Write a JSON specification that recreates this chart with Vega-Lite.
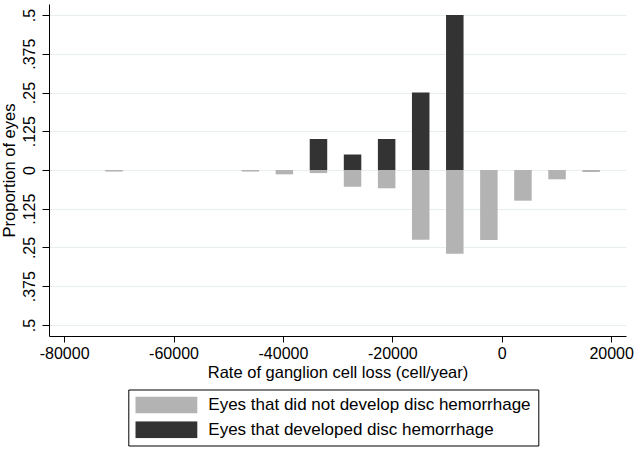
{
  "$schema": "https://vega.github.io/schema/vega-lite/v6.json",
  "width": 577,
  "height": 332,
  "autosize": {"type": "none"},
  "padding": {"left": 49, "top": 4, "right": 17, "bottom": 114},
  "background": "white",
  "config": {
    "font": "Liberation Sans",
    "view": {"stroke": null},
    "axis": {"domainColor": "black", "tickColor": "black", "labelColor": "black", "titleColor": "black", "titleFontWeight": "normal", "gridColor": "#e6eeee", "gridWidth": 1.2}
  },
  "data": {
    "values": [
      {"rate": -70883, "proportion": -0.005, "group": "Eyes that did not develop disc hemorrhage"},
      {"rate": -45963, "proportion": -0.005, "group": "Eyes that did not develop disc hemorrhage"},
      {"rate": -39733, "proportion": -0.014, "group": "Eyes that did not develop disc hemorrhage"},
      {"rate": -33503, "proportion": -0.01, "group": "Eyes that did not develop disc hemorrhage"},
      {"rate": -27273, "proportion": -0.054, "group": "Eyes that did not develop disc hemorrhage"},
      {"rate": -21043, "proportion": -0.059, "group": "Eyes that did not develop disc hemorrhage"},
      {"rate": -14813, "proportion": -0.225, "group": "Eyes that did not develop disc hemorrhage"},
      {"rate": -8583, "proportion": -0.27, "group": "Eyes that did not develop disc hemorrhage"},
      {"rate": -2353, "proportion": -0.226, "group": "Eyes that did not develop disc hemorrhage"},
      {"rate": 3877, "proportion": -0.099, "group": "Eyes that did not develop disc hemorrhage"},
      {"rate": 10107, "proportion": -0.03, "group": "Eyes that did not develop disc hemorrhage"},
      {"rate": 16337, "proportion": -0.0065, "group": "Eyes that did not develop disc hemorrhage"},
      {"rate": -33503, "proportion": 0.1, "group": "Eyes that developed disc hemorrhage"},
      {"rate": -27273, "proportion": 0.05, "group": "Eyes that developed disc hemorrhage"},
      {"rate": -21043, "proportion": 0.1, "group": "Eyes that developed disc hemorrhage"},
      {"rate": -14813, "proportion": 0.25, "group": "Eyes that developed disc hemorrhage"},
      {"rate": -8583, "proportion": 0.5, "group": "Eyes that developed disc hemorrhage"}
    ]
  },
  "mark": {"type": "bar", "size": 17.5, "opacity": 1},
  "encoding": {
    "x": {
      "field": "rate",
      "type": "quantitative",
      "scale": {"domain": [-81850, 21800], "nice": false, "zero": false},
      "axis": {
        "title": "Rate of ganglion cell loss (cell/year)",
        "values": [-80000, -60000, -40000, -20000, 0, 20000],
        "labelExpr": "'' + datum.value",
        "grid": false,
        "tickSize": 6,
        "labelFontSize": 16,
        "labelPadding": 3,
        "titleFontSize": 16.5,
        "titlePadding": 3,
        "labelFlush": false
      }
    },
    "y": {
      "field": "proportion",
      "type": "quantitative",
      "stack": null,
      "scale": {"domain": [-0.5355, 0.5355], "nice": false},
      "axis": {
        "title": "Proportion of eyes",
        "values": [-0.5, -0.375, -0.25, -0.125, 0, 0.125, 0.25, 0.375, 0.5],
        "labelExpr": "datum.value == 0 ? '0' : replace(format(abs(datum.value), '.3~f'), '0.', '.')",
        "grid": true,
        "tickSize": 7,
        "labelAngle": 270,
        "labelAlign": "center",
        "labelBaseline": "alphabetic",
        "labelPadding": 8,
        "labelFontSize": 16,
        "titleFontSize": 16.5,
        "titlePadding": 4,
        "labelFlush": false
      }
    },
    "color": {
      "field": "group",
      "type": "nominal",
      "scale": {
        "domain": ["Eyes that did not develop disc hemorrhage", "Eyes that developed disc hemorrhage"],
        "range": ["#b3b3b3", "#333333"]
      },
      "legend": {
        "title": null,
        "orient": "none",
        "legendX": 79.3,
        "legendY": 385.5,
        "direction": "vertical",
        "symbolType": "M-1,-0.274H1V0.274H-1Z",
        "symbolSize": 3844,
        "clipHeight": 17,
        "rowPadding": 6.7,
        "labelOffset": 11,
        "labelFontSize": 17,
        "labelColor": "black",
        "labelLimit": 500,
        "symbolStrokeWidth": 0,
        "symbolOpacity": 1,
        "strokeColor": "black",
        "fillColor": "white",
        "padding": 7
      }
    }
  }
}
